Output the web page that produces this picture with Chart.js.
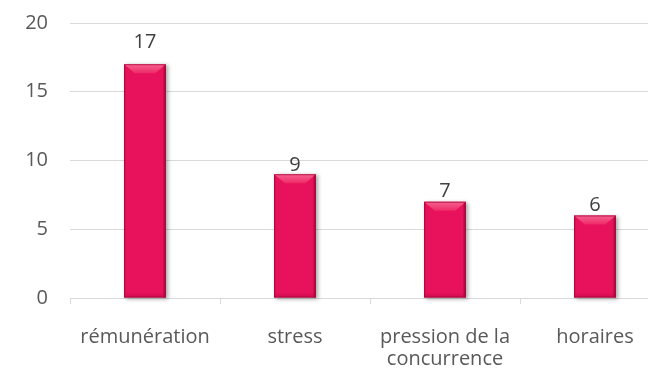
<!DOCTYPE html>
<html>
<head>
<meta charset="utf-8">
<script src="https://cdn.jsdelivr.net/npm/chart.js@4/dist/chart.umd.min.js"></script>
<style>
  html, body { margin: 0; padding: 0; background: #ffffff; overflow: hidden; }
  #wrap { width: 648px; height: 369px; overflow: hidden; }
  canvas { display: block; }
</style>
</head>
<body>
<div id="wrap"><canvas id="c" width="680" height="369"></canvas></div>
<script>
// Causes cited, and how many times each was cited
const categories = ['rémunération', 'stress', ['pression de la', 'concurrence'], 'horaires'];
const counts = [17, 9, 7, 6];
const yTicks = [0, 5, 10, 15, 20];

// Gap in px between the top of each bar and its value label
const labelGap = [16, 3, 5, 5];

const FONT = '"Open Sans", Lato, sans-serif';
const BAR = '#E8115B';

// Bevelled bar look: soft shadow, lighter top facet, darker edges
const bevelBars = {
  id: 'bevelBars',
  beforeDatasetsDraw(chart) {
    const ctx = chart.ctx;
    chart.getDatasetMeta(0).data.forEach(bar => {
      const l = bar.x - bar.width / 2, r = bar.x + bar.width / 2;
      const t = bar.y, b = bar.base;
      ctx.save();
      ctx.shadowColor = 'rgba(0,0,0,0.35)';
      ctx.shadowBlur = 4;
      ctx.shadowOffsetX = 2;
      ctx.shadowOffsetY = 1;
      ctx.fillStyle = BAR;
      ctx.fillRect(l, t, r - l, b - t);
      ctx.restore();
    });
  },
  afterDatasetsDraw(chart) {
    const ctx = chart.ctx;
    chart.getDatasetMeta(0).data.forEach(bar => {
      const l = bar.x - bar.width / 2, r = bar.x + bar.width / 2;
      const t = bar.y, b = bar.base;
      const bv = Math.min(9, (b - t) / 3);
      ctx.save();
      // top facet
      const g = ctx.createLinearGradient(0, t, 0, t + bv);
      g.addColorStop(0, '#F5628F');
      g.addColorStop(1, '#EE2A68');
      ctx.fillStyle = g;
      ctx.beginPath();
      ctx.moveTo(l, t);
      ctx.lineTo(r, t);
      ctx.lineTo(r - bv * 1.2, t + bv);
      ctx.lineTo(l + bv * 1.2, t + bv);
      ctx.closePath();
      ctx.fill();
      // right edge
      ctx.fillStyle = 'rgba(120,0,35,0.45)';
      ctx.fillRect(r - 2.5, t + 1, 2.5, b - t - 1);
      // left edge
      ctx.fillStyle = 'rgba(120,0,35,0.25)';
      ctx.fillRect(l, t + 1, 1.5, b - t - 1);
      // bottom facet
      const gb = ctx.createLinearGradient(0, b - 5, 0, b);
      gb.addColorStop(0, 'rgba(150,0,45,0)');
      gb.addColorStop(1, 'rgba(150,0,45,0.35)');
      ctx.fillStyle = gb;
      ctx.fillRect(l, b - 5, r - l, 5);
      // outline
      ctx.strokeStyle = 'rgba(170,10,60,0.8)';
      ctx.lineWidth = 1;
      ctx.strokeRect(l + 0.5, t + 0.5, r - l - 1, b - t - 1);
      ctx.restore();
    });
  }
};

// Value labels above each bar
const valueLabels = {
  id: 'valueLabels',
  afterDatasetsDraw(chart) {
    const ctx = chart.ctx;
    const ds = chart.data.datasets[0];
    ctx.save();
    ctx.font = '20px ' + FONT;
    ctx.fillStyle = '#404040';
    ctx.textAlign = 'center';
    ctx.textBaseline = 'alphabetic';
    chart.getDatasetMeta(0).data.forEach((bar, i) => {
      ctx.fillText(String(ds.data[i]), bar.x, bar.y - labelGap[i]);
    });
    ctx.restore();
  }
};

new Chart(document.getElementById('c'), {
  type: 'bar',
  data: {
    labels: categories,
    datasets: [{
      data: counts,
      backgroundColor: 'rgba(0,0,0,0)',
      borderWidth: 0,
      barPercentage: 0.28,
      categoryPercentage: 1.0
    }]
  },
  options: {
    responsive: false,
    animation: false,
    devicePixelRatio: 1,
    layout: { padding: { top: 23, right: 10, left: 0, bottom: 0 } },
    plugins: { legend: { display: false }, tooltip: { enabled: false } },
    scales: {
      x: {
        offset: true,
        afterFit(s) { s.height = 71; },
        border: { display: true, color: '#D9D9D9', width: 1 },
        grid: { offset: true, drawOnChartArea: false, drawTicks: true, tickLength: 6, color: '#D9D9D9' },
        ticks: { color: '#595959', font: { family: FONT, size: 20, lineHeight: 1.1 }, padding: 22, maxRotation: 0, autoSkip: false }
      },
      y: {
        min: 0,
        max: 20,
        afterBuildTicks(s) { s.ticks = yTicks.map(v => ({ value: v })); },
        afterFit(s) { s.width = 70; s.paddingTop = 0; s.paddingBottom = 0; },
        border: { display: false },
        grid: { color: '#D9D9D9', drawTicks: false },
        ticks: { color: '#595959', font: { family: FONT, size: 20 }, padding: 22 }
      }
    }
  },
  plugins: [bevelBars, valueLabels]
});
</script>
</body>
</html>
